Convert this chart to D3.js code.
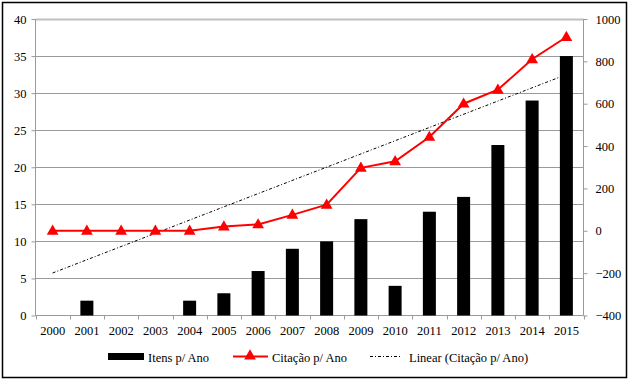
<!DOCTYPE html>
<html>
<head>
<meta charset="utf-8">
<script src="https://cdn.jsdelivr.net/npm/d3@7"></script>
<style>
html,body{margin:0;padding:0;background:#fff;}
</style>
</head>
<body>
<svg id="chart" width="632" height="382" style="display:block"></svg>
<script>
const years = ["2000","2001","2002","2003","2004","2005","2006","2007","2008","2009","2010","2011","2012","2013","2014","2015"];
const itens = [0,2,0,0,2,3,6,9,10,13,4,14,16,23,29,35];
const citacoes = [0,0,0,0,0,20,30,75,123,297,328,443,600,666,810,915];
const leftTicks = [0,5,10,15,20,25,30,35,40];
const rightTicks = [-400,-200,0,200,400,600,800,1000];
const legendLabels = ["Itens p/ Ano","Citação p/ Ano","Linear (Citação  p/ Ano)"];

const FONT = "Liberation Serif";
const FS = 12.5;
function styleText(sel){
  return sel.attr("font-family",FONT).attr("font-size",FS)
    .style("font-family","'Liberation Serif', serif").style("font-size",FS+"px").attr("fill","#000");
}
const svg = d3.select("#chart");
const m = {l:35.5, r:583.5, t:19, b:315.5};

svg.append("rect").attr("x",2.5).attr("y",2.5).attr("width",624).attr("height",375)
  .attr("fill","#fff").attr("stroke","#000").attr("stroke-width",1.5);

const x = d3.scaleBand().domain(years).range([m.l,m.r]).paddingInner(0).paddingOuter(0);
const yL = d3.scaleLinear().domain([0,40]).range([m.b,m.t]);
const yR = d3.scaleLinear().domain([-400,1000]).range([m.b,m.t]);

// gridlines
svg.append("g").selectAll("line").data(leftTicks.filter(d=>d>0)).join("line")
  .attr("x1",m.l).attr("x2",m.r)
  .attr("y1",d=>Math.round(yL(d))+0.5).attr("y2",d=>Math.round(yL(d))+0.5)
  .attr("stroke",d=>d===40?"#c0c0c0":"#9a9a9a").attr("stroke-width",d=>d===40?2:1);

// left axis
const axL = d3.axisLeft(yL).tickValues(leftTicks).tickFormat(d3.format("d")).tickSize(4).tickPadding(5);
const gL = svg.append("g").attr("transform",`translate(${m.l},0)`).call(axL).attr("font-family",FONT);
gL.select(".domain").attr("stroke","#9a9a9a").attr("d",`M0,${m.t}V${m.b}`);
gL.selectAll(".tick line").attr("stroke","#9a9a9a");
styleText(gL.selectAll("text"));

// right axis
const axR = d3.axisRight(yR).tickValues(rightTicks).tickFormat(d3.format("d")).tickSize(4).tickPadding(8);
const gR = svg.append("g").attr("transform",`translate(${m.r},0)`).call(axR).attr("font-family",FONT);
gR.select(".domain").attr("stroke","#9a9a9a").attr("d",`M0,${m.t}V${m.b}`);
gR.selectAll(".tick line").attr("stroke","#9a9a9a");
styleText(gR.selectAll("text"));

// bottom axis
const gB = svg.append("g").attr("transform",`translate(0,${m.b})`);
gB.append("line").attr("x1",m.l).attr("x2",m.r).attr("stroke","#9a9a9a");
gB.selectAll("line.tk").data(years.concat(["end"])).join("line").attr("class","tk")
  .attr("x1",(d,i)=>Math.round(m.l + i*x.bandwidth())+0.5)
  .attr("x2",(d,i)=>Math.round(m.l + i*x.bandwidth())+0.5)
  .attr("y1",0).attr("y2",4).attr("stroke","#9a9a9a");
styleText(gB.selectAll("text").data(years).join("text")
  .attr("x",d=>x(d)+x.bandwidth()/2).attr("y",19)
  .attr("text-anchor","middle").text(d=>d));

// bars
const bw = 13;
svg.append("g").selectAll("rect").data(years).join("rect")
  .attr("x",d=>x(d)+x.bandwidth()/2-bw/2)
  .attr("width",bw)
  .attr("y",(d,i)=>yL(itens[i]))
  .attr("height",(d,i)=>m.b-yL(itens[i]))
  .attr("fill","#000");

// linear trend (least squares on citations)
const n = years.length;
const xs = d3.range(n);
const mx = d3.mean(xs), my = d3.mean(citacoes);
const slope = d3.sum(xs,(v,i)=>(v-mx)*(citacoes[i]-my))/d3.sum(xs,v=>(v-mx)*(v-mx));
const inter = my - slope*mx;
const cx = i => x(years[i])+x.bandwidth()/2;
svg.append("line")
  .attr("x1",cx(0)).attr("y1",yR(inter))
  .attr("x2",cx(n-1)).attr("y2",yR(inter+slope*(n-1)))
  .attr("stroke","#000").attr("stroke-width",1).attr("stroke-dasharray","3,2,1,2");

// citation line
const line = d3.line().x((d,i)=>cx(i)).y(d=>yR(d));
svg.append("path").datum(citacoes).attr("d",line)
  .attr("fill","none").attr("stroke","#ff0000").attr("stroke-width",2);
const tri = d3.symbol().type(d3.symbolTriangle).size(60);
svg.append("g").selectAll("path").data(citacoes).join("path")
  .attr("d",tri).attr("transform",(d,i)=>`translate(${cx(i)},${yR(d)+0.5})`)
  .attr("fill","#ff0000");

// legend
const lg = svg.append("g");
const ly = 357;
lg.append("rect").attr("x",108).attr("y",ly-4).attr("width",36).attr("height",7).attr("fill","#000");
styleText(lg.append("text").attr("x",148).attr("y",ly+5).text(legendLabels[0]));
lg.append("line").attr("x1",233).attr("x2",268).attr("y1",ly-0.5).attr("y2",ly-0.5).attr("stroke","#ff0000").attr("stroke-width",2);
lg.append("path").attr("d",tri).attr("transform",`translate(250,${ly-1})`).attr("fill","#ff0000");
styleText(lg.append("text").attr("x",272).attr("y",ly+5).text(legendLabels[1]));
lg.append("line").attr("x1",370).attr("x2",402).attr("y1",ly-0.5).attr("y2",ly-0.5)
  .attr("stroke","#000").attr("stroke-width",1).attr("stroke-dasharray","3,2,1,2");
styleText(lg.append("text").attr("x",409).attr("y",ly+5).text(legendLabels[2]));
</script>
</body>
</html>
